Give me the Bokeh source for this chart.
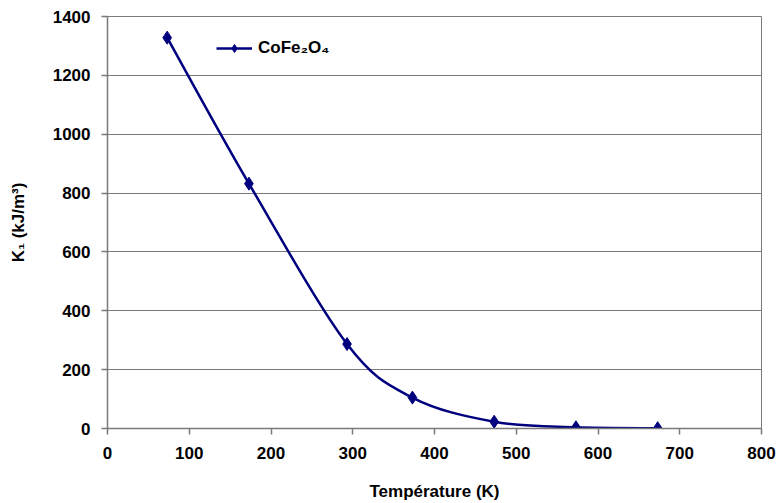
from bokeh.plotting import figure
from bokeh.embed import file_html
from bokeh.resources import INLINE
from bokeh.models import Range1d, FixedTicker, Legend, LegendItem
import numpy as np

# Data
temperature = [73, 173, 293, 373, 473, 573, 673]
k1 = [1328, 832, 287, 105, 23, 4, 1]
series_name = "CoFe\u2082O\u2084"
x_ticks = [0, 100, 200, 300, 400, 500, 600, 700, 800]
y_ticks = [0, 200, 400, 600, 800, 1000, 1200, 1400]

FONT = "Liberation Sans"
NAVY = "#00007f"
GRAY = "#7a7a7a"

p = figure(width=778, height=503, output_backend="svg", toolbar_location=None,
           x_range=Range1d(0, 800), y_range=Range1d(0, 1400),
           min_border_left=107, min_border_right=17, min_border_top=16, min_border_bottom=75)
p.background_fill_color = "white"
p.border_fill_color = "white"
p.outline_line_color = GRAY
p.outline_line_width = 1

# smooth curve (Excel-like smoothing) via cubic Bezier segments built from the data
x = np.array(temperature, dtype=float)
y = np.array(k1, dtype=float)
xp = np.concatenate([[x[0]], x, [x[-1]]])
yp = np.concatenate([[y[0]], y, [y[-1]]])
n = len(x)
x0 = x[:-1]; y0 = y[:-1]; x1 = x[1:]; y1 = y[1:]
cx0 = x0 + (xp[2:n + 1] - xp[0:n - 1]) / 6.0
cy0 = y0 + (yp[2:n + 1] - yp[0:n - 1]) / 6.0
cx1 = x1 - (xp[3:n + 2] - xp[1:n]) / 6.0
cy1 = y1 - (yp[3:n + 2] - yp[1:n]) / 6.0

curve = p.bezier(x0=x0, y0=y0, x1=x1, y1=y1, cx0=cx0, cy0=cy0, cx1=cx1, cy1=cy1,
                 line_color=NAVY, line_width=2.5)
pts = p.scatter(temperature, k1, marker="diamond", size=13,
                fill_color=NAVY, line_color=NAVY)

legend = Legend(items=[LegendItem(label=series_name, renderers=[curve, pts])],
                location=(109, 370), border_line_color=None, background_fill_alpha=0,
                label_text_font=FONT, label_text_font_style="bold", label_text_font_size="17px",
                label_text_color="black",
                glyph_width=36, glyph_height=20, padding=0, margin=0, label_standoff=6)
p.add_layout(legend, "center")

for ax in (p.xaxis[0], p.yaxis[0]):
    ax.axis_line_color = GRAY
    ax.axis_line_width = 1.5
    ax.major_tick_line_color = GRAY
    ax.major_tick_line_width = 1.5
    ax.major_tick_out = 6
    ax.major_tick_in = 0
    ax.minor_tick_line_color = None
    ax.major_label_text_font = FONT
    ax.major_label_text_font_style = "bold"
    ax.major_label_text_font_size = "17px"
    ax.major_label_text_color = "black"
    ax.axis_label_text_font = FONT
    ax.axis_label_text_font_style = "bold"
    ax.axis_label_text_font_size = "17px"
    ax.axis_label_text_color = "black"

p.xaxis.ticker = FixedTicker(ticks=x_ticks)
p.yaxis.ticker = FixedTicker(ticks=y_ticks)
p.xaxis.major_label_standoff = 12
p.yaxis.major_label_standoff = 11
p.xaxis.axis_label = "Temp\u00e9rature (K)"
p.yaxis.axis_label = "K\u2081 (kJ/m\u00b3)"
p.xaxis.axis_label_standoff = 20
p.yaxis.axis_label_standoff = 22

p.xgrid.grid_line_color = None
p.ygrid.grid_line_color = GRAY
p.ygrid.grid_line_width = 1.2
p.ygrid.ticker = FixedTicker(ticks=y_ticks)

open("out.html", "w").write(file_html(p, INLINE))
